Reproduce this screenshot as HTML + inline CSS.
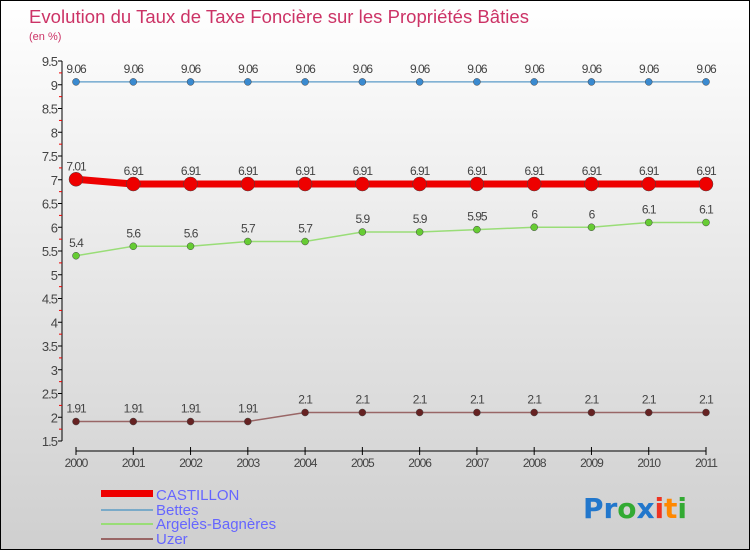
<!DOCTYPE html>
<html><head><meta charset="utf-8"><style>
body{margin:0}
#c{width:750px;height:550px;position:relative;overflow:hidden;background:linear-gradient(#ffffff,#cfcfcf);font-family:"Liberation Sans",sans-serif;border:1px solid #000;box-sizing:border-box}
</style></head><body>
<div id="c">
<svg id="s" width="750" height="550" style="position:absolute;left:0;top:0">
<text x="28" y="22" font-size="18.5" fill="#cc3366" textLength="500">Evolution du Taux de Taxe Foncière sur les Propriétés Bâties</text>
<text x="28" y="39" font-size="11" fill="#cc3366">(en %)</text>
<g id="axes"></g><g id="series"></g>
<g>
<rect x="100" y="489" width="52" height="7" fill="#e00"/>
<text x="155" y="499" font-size="15" fill="#6666ff">CASTILLON</text>
<rect x="100" y="508" width="52" height="2" fill="#7aaac8"/>
<text x="155" y="514" font-size="15" fill="#6666ff">Bettes</text>
<rect x="100" y="522" width="52" height="2" fill="#99dd77"/>
<text x="155" y="528" font-size="15" fill="#6666ff">Argelès-Bagnères</text>
<rect x="100" y="537" width="52" height="2" fill="#996666"/>
<text x="155" y="543" font-size="15" fill="#6666ff">Uzer</text>
</g>
<text x="582" y="517" font-size="28" font-weight="bold" font-family="'DejaVu Sans',sans-serif" textLength="104"><tspan fill="#2277cc">Pr</tspan><tspan fill="#33aa33">o</tspan><tspan fill="#2277cc">x</tspan><tspan fill="#ee3322">i</tspan><tspan fill="#ff8800">t</tspan><tspan fill="#33aa33">i</tspan></text>
</svg>
</div>
<script>
const years=[2000,2001,2002,2003,2004,2005,2006,2007,2008,2009,2010,2011];
const castillon=[7.01,6.91,6.91,6.91,6.91,6.91,6.91,6.91,6.91,6.91,6.91,6.91];
const bettes=[9.06,9.06,9.06,9.06,9.06,9.06,9.06,9.06,9.06,9.06,9.06,9.06];
const argeles=[5.4,5.6,5.6,5.7,5.7,5.9,5.9,5.95,6,6,6.1,6.1];
const uzer=[1.91,1.91,1.91,1.91,2.1,2.1,2.1,2.1,2.1,2.1,2.1,2.1];
const yTicks=[1.5,2,2.5,3,3.5,4,4.5,5,5.5,6,6.5,7,7.5,8,8.5,9,9.5];
const NS="http://www.w3.org/2000/svg";
const X=i=>75+i*(630/11);
const Y=v=>440-(v-1.5)*47.5;
function mk(p,t,a){const e=document.createElementNS(NS,t);for(const k in a)e.setAttribute(k,a[k]);p.appendChild(e);return e;}
const ax=document.getElementById('axes');
let l=mk(ax,'line',{x1:61,y1:60,x2:61,y2:440,stroke:'#000'});


yTicks.forEach(v=>{
 mk(ax,'line',{x1:57,y1:Y(v),x2:61,y2:Y(v),stroke:'#000'});
 mk(ax,'line',{x1:58,y1:Y(v)+11.9,x2:61,y2:Y(v)+11.9,stroke:v>1.5?'#e00':'none'});
 const t=mk(ax,'text',{x:56,y:Y(v)+5,'font-size':13,'text-anchor':'end',fill:'#444','letter-spacing':'-1'});
 t.textContent=v;
 
 
});
l=mk(ax,'line',{x1:75,y1:450,x2:705,y2:450,stroke:'#000'});


years.forEach((yr,i)=>{
 mk(ax,'line',{x1:X(i),y1:446,x2:X(i),y2:454,stroke:'#000'});
 const t=mk(ax,'text',{x:X(i),y:466,'font-size':12,'text-anchor':'middle',fill:'#444','letter-spacing':'-1'});
 t.textContent=yr;
 
 
});
const sg=document.getElementById('series');
function draw(name,vals,color,dot,w,r){
 const g=mk(sg,'g',{});
 
 
 mk(g,'polyline',{points:vals.map((v,i)=>X(i)+','+Y(v)).join(' '),fill:'none',stroke:color,'stroke-width':w});
 vals.forEach((v,i)=>{
  const c=mk(g,'circle',{cx:X(i),cy:Y(v),r:r,fill:dot,stroke:'#444','stroke-width':0.5});
  
  
  const t=mk(g,'text',{x:X(i),y:Y(v)-9,'font-size':12,'text-anchor':'middle',fill:'#444','letter-spacing':'-1'});
  t.textContent=v;
  
  
 });
}
draw('bettes',bettes,'#5a9ac8','#3a8ad0',1.2,3.5);
draw('argeles',argeles,'#99dd77','#66cc33',1.5,3.5);
draw('uzer',uzer,'#996666','#662222',1.5,3.5);
draw('castillon',castillon,'#ee0000','#ee0000',7,7);
</script>
</body></html>
